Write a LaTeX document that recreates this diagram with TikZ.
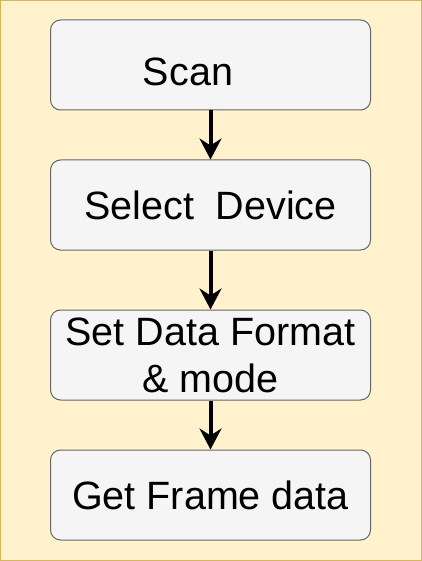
\documentclass[tikz,border=0pt]{standalone}
\usepackage{fontspec}
\setmainfont{Liberation Sans}
\usepackage{tikz}
\usetikzlibrary{arrows.meta, positioning}

\definecolor{panelfill}{HTML}{FFF2CC}
\definecolor{panelline}{HTML}{D6B656}
\definecolor{boxfill}{HTML}{F5F5F5}
\definecolor{boxline}{HTML}{666666}

\begin{document}
\begin{tikzpicture}[
  x=1pt, y=1pt,
  >={Stealth[length=21pt, width=22pt, inset=7pt]},
  stepbox/.style={
    rectangle, rounded corners=10pt, draw=boxline, fill=boxfill,
    line width=1pt, minimum width=320pt, minimum height=90pt,
    inner sep=0pt, align=center,
    font=\fontsize{39.5}{47}\selectfont
  },
  edge/.style={line width=4pt, ->},
]

%%% Background panel
\useasboundingbox (0,0) rectangle (422,-561);
\draw[panelline, fill=panelfill, line width=1pt] (0.5,-0.5) rectangle (421.5,-560.5);

%%% Flow steps
\node[stepbox] (scan)   at (210.5,-65)  {\rule{0pt}{42pt}Scan\hspace{45pt}};
\node[stepbox] (select) at (210.5,-205) {Select\ \ Device};
\node[stepbox] (format) at (210.5,-355) {Set Data Format\\\& mode};
\node[stepbox] (frame)  at (210.5,-495) {Get Frame data};

%%% Edges
\draw[edge] (scan) -- (select);
\draw[edge] (select) -- (format);
\draw[edge] (format) -- (frame);

\end{tikzpicture}
\end{document}
